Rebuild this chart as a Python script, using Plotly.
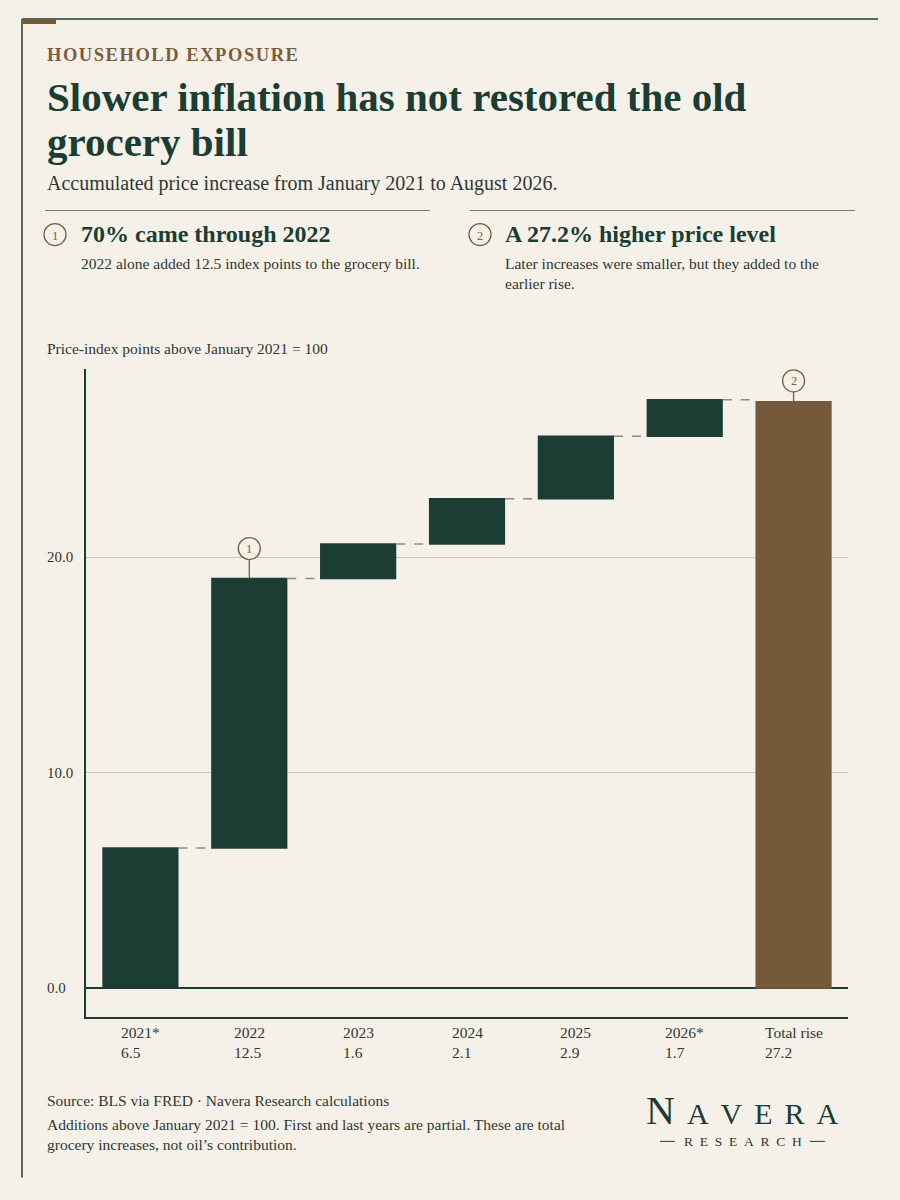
import plotly.graph_objects as go

# ---------------- data ----------------
categories = ["2021", "2022", "2023", "2024", "2025", "2026", "Total rise"]
tick_labels = ["2021*", "2022", "2023", "2024", "2025", "2026*", "Total rise"]
increments = [6.5, 12.5, 1.6, 2.1, 2.9, 1.7, 27.2]
measures = ["relative", "relative", "relative", "relative", "relative", "relative", "absolute"]
y_ticks = [0, 10, 20]
y_tick_labels = ["0.0", "10.0", "20.0"]
callout_index = [1, 6]
callout_labels = ["1", "2"]

# ---------------- style ----------------
W, H = 900, 1200
L, R, T, B = 86, 848, 371, 1017
BG = "#f5f1e8"
GREEN = "#1b3d33"
BROWN = "#745a3a"
TEXT = "#2f3733"
GRID = "#cdc7bb"
RULE = "#867660"
CIRC = "#7a5f42"
FONT = "Liberation Serif"


def xp(px):
    return (px - L) / (R - L)


def yp(py):
    return (B - py) / (B - T)


# running totals (bar tops)
tops = []
run = 0.0
for v, m in zip(increments, measures):
    run = v if m == "absolute" else run + v
    tops.append(run)

fig = go.Figure()
fig.add_trace(go.Waterfall(
    x=categories,
    y=increments,
    measure=measures,
    increasing=dict(marker=dict(color=GREEN)),
    totals=dict(marker=dict(color=BROWN)),
    connector=dict(mode="between", line=dict(color="#8e8c84", width=1.5, dash="dash")),
    hoverinfo="skip",
    showlegend=False,
))

annotations = []
shapes = []

def txt(x, y, s, size, color=TEXT, bold=False, xanchor="left", yanchor="middle", align="left", family=FONT):
    annotations.append(dict(
        x=xp(x), y=yp(y), xref="paper", yref="paper", text=s, showarrow=False,
        xanchor=xanchor, yanchor=yanchor, align=align,
        font=dict(family=family, size=size, color=color, weight="bold" if bold else "normal"),
    ))

# frame
shapes.append(dict(type="line", xref="paper", yref="paper", x0=xp(22), x1=xp(878), y0=yp(22), y1=yp(22),
                   line=dict(color=GREEN, width=1.5)))
shapes.append(dict(type="line", xref="paper", yref="paper", x0=xp(22), x1=xp(22), y0=yp(22), y1=yp(1177),
                   line=dict(color=GREEN, width=1.5)))
shapes.append(dict(type="rect", xref="paper", yref="paper", x0=xp(22), x1=xp(56), y0=yp(22), y1=yp(27),
                   fillcolor=BROWN, line=dict(width=0)))

# header
txt(45, 58, "\u200a".join("HOUSEHOLD EXPOSURE"), 18.5, color="#7b5d3d", bold=True)
txt(45, 100, "Slower inflation has not restored the old", 41, color=GREEN, bold=True)
txt(45, 145, "grocery bill", 41, color=GREEN, bold=True)
txt(45, 186, "Accumulated price increase from January 2021 to August 2026.", 20, color=TEXT)

# rules
shapes.append(dict(type="line", xref="paper", yref="paper", x0=xp(45), x1=xp(430), y0=yp(213), y1=yp(213),
                   line=dict(color=RULE, width=1.2)))
shapes.append(dict(type="line", xref="paper", yref="paper", x0=xp(470), x1=xp(855), y0=yp(213), y1=yp(213),
                   line=dict(color=RULE, width=1.2)))

# callout headers
for cx, num, head, body, tx in [
    (55, "1", "70% came through 2022", "2022 alone added 12.5 index points to the grocery bill.", 79),
    (480, "2", "A 27.2% higher price level", "Later increases were smaller, but they added to the<br>earlier rise.", 503),
]:
    shapes.append(dict(type="circle", xref="paper", yref="paper", x0=xp(cx - 11), x1=xp(cx + 11),
                       y0=yp(237 + 11), y1=yp(237 - 11), line=dict(color=CIRC, width=1.3)))
    txt(cx, 238, num, 12.5, color=CIRC, xanchor="center")
    txt(tx, 236, head, 24, color=GREEN, bold=True)
    txt(tx, 255, body, 15.5, color=TEXT, yanchor="top")

# axis title
txt(45, 351, "Price-index points above January 2021 = 100", 15.5, color=TEXT)

# y tick labels
for v, lab in zip(y_ticks, y_tick_labels):
    annotations.append(dict(x=xp(45), xref="paper", y=v, yref="y", text=lab, showarrow=False,
                            xanchor="left", yanchor="middle",
                            font=dict(family=FONT, size=15, color=TEXT)))

# x tick labels (year + value)
for i, (lab, v) in enumerate(zip(tick_labels, increments)):
    annotations.append(dict(x=i, xref="x", y=yp(1022), yref="paper", text=f"{lab}<br>{v:.1f}",
                            showarrow=False, xanchor="center", yanchor="top", align="left",
                            font=dict(family=FONT, size=15.5, color=TEXT)))

# callout markers on chart
for idx, lab, off in zip(callout_index, callout_labels, [30, 21]):
    top = tops[idx]
    shapes.append(dict(type="line", xref="x", yref="y", x0=idx, x1=idx, ysizemode="pixel", yanchor=top,
                       y0=0, y1=off - 11, line=dict(color=CIRC, width=1.3), layer="above"))
    shapes.append(dict(type="circle", xref="x", yref="y", xsizemode="pixel", ysizemode="pixel",
                       xanchor=idx, yanchor=top, x0=-11, x1=11, y0=off - 11, y1=off + 11,
                       fillcolor=BG, line=dict(color=CIRC, width=1.3), layer="above"))
    annotations.append(dict(x=idx, xref="x", y=top, yref="y", yshift=off, text=lab, showarrow=False,
                            xanchor="center", yanchor="middle",
                            font=dict(family=FONT, size=12.5, color=CIRC)))

# footer
txt(45, 1100, "Source: BLS via FRED \u00b7 Navera Research calculations", 15.5, color=TEXT)
txt(45, 1114, "Additions above January 2021 = 100. First and last years are partial. These are total<br>"
              "grocery increases, not oil\u2019s contribution.", 15.5, color=TEXT, yanchor="top")

# logo
gap = "\u2009\u2009"
txt(742, 1110, "<span style='font-size:40px'>N</span>" + gap + gap.join("AVERA"), 30, color=GREEN,
    xanchor="center")
txt(743, 1141, "\u2002".join("RESEARCH"), 13.5, color=TEXT, xanchor="center")
shapes.append(dict(type="line", xref="paper", yref="paper", x0=xp(660), x1=xp(675), y0=yp(1141), y1=yp(1141),
                   line=dict(color=TEXT, width=1)))
shapes.append(dict(type="line", xref="paper", yref="paper", x0=xp(810), x1=xp(825), y0=yp(1141), y1=yp(1141),
                   line=dict(color=TEXT, width=1)))

ppu = (988 - 557) / 20.0
fig.update_layout(
    width=W, height=H,
    margin=dict(l=L, r=W - R, t=T - 2, b=H - B),
    paper_bgcolor=BG, plot_bgcolor=BG,
    waterfallgap=0.3,
    xaxis=dict(type="category", range=[-0.5, 6.5], showticklabels=False, showgrid=False,
               showline=True, linecolor=GREEN, linewidth=1.5, ticks="", fixedrange=True),
    yaxis=dict(range=[-(B - 988) / ppu, (988 - T + 2) / ppu], tickvals=y_ticks, showticklabels=False,
               showgrid=True, gridcolor=GRID, gridwidth=1,
               zeroline=True, zerolinecolor=GREEN, zerolinewidth=1.5,
               showline=True, linecolor=GREEN, linewidth=1.5, ticks="", fixedrange=True),
    shapes=shapes,
    annotations=annotations,
    font=dict(family=FONT, color=TEXT),
)

fig.write_html("out.html")
